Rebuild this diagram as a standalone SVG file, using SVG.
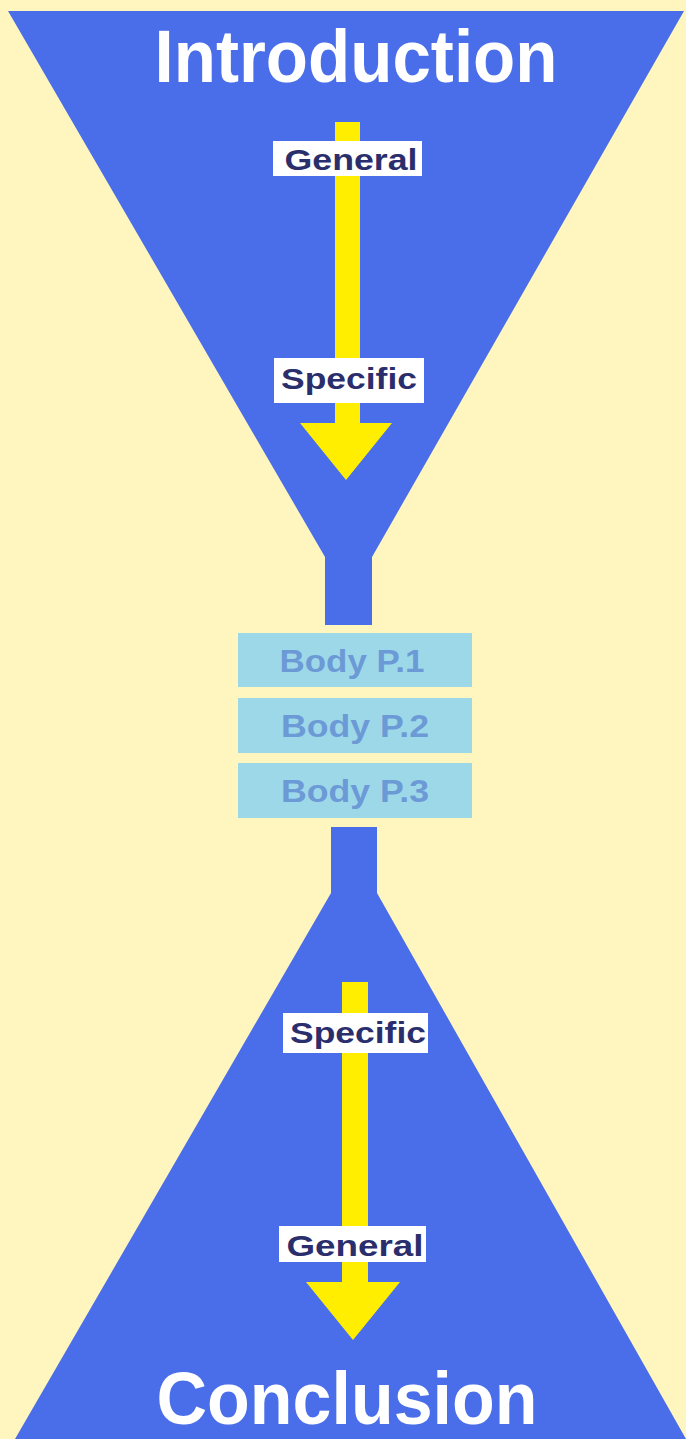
<svg xmlns="http://www.w3.org/2000/svg" width="686" height="1439" viewBox="0 0 686 1439">
<style>
.funnel{fill:#4a6ee9}
.shaft{fill:#ffee00}
.lbox{fill:#ffffff}
.ltxt{font-family:"Liberation Sans",Arial,sans-serif;font-weight:bold;font-size:30px;fill:#2b2e6c;text-anchor:middle}
.title{font-family:"Liberation Sans",Arial,sans-serif;font-weight:bold;font-size:75px;fill:#ffffff;text-anchor:middle}
.btxt{font-family:"Liberation Sans",Arial,sans-serif;font-weight:bold;font-size:31px;fill:#6c9ad6;text-anchor:middle}
.bbox{fill:#9dd8e8}
</style>
<rect x="0" y="0" width="686" height="1439" fill="#fef5bf"/>
<g id="introduction">
<polygon class="funnel" points="8,11 684,11 372,557 372,625 325,625 325,557"/>
<text class="title" x="356" y="82" textLength="403" lengthAdjust="spacingAndGlyphs">Introduction</text>
</g>
<g id="conclusion">
<polygon class="funnel" points="331,827 377,827 377,893 686,1439 15,1439 331,893"/>
<text class="title" x="347" y="1424" font-size="72" textLength="381" lengthAdjust="spacingAndGlyphs">Conclusion</text>
</g>
<g id="connectors">
<polygon class="shaft" points="335,122 360,122 360,423 392,423 346,480 300,423 335,423"/>
<polygon class="shaft" points="342,982 368,982 368,1282 400,1282 353,1340 306,1282 342,1282"/>
</g>
<g id="label-general-top">
<rect class="lbox" x="273" y="141" width="149" height="35"/>
<text class="ltxt" x="351" y="170" textLength="133" lengthAdjust="spacingAndGlyphs">General</text>
</g>
<g id="label-specific-top">
<rect class="lbox" x="274" y="358" width="150" height="45"/>
<text class="ltxt" x="349" y="389" textLength="136" lengthAdjust="spacingAndGlyphs">Specific</text>
</g>
<g id="label-specific-bottom">
<rect class="lbox" x="283" y="1013" width="145" height="40"/>
<text class="ltxt" x="358" y="1043" textLength="136" lengthAdjust="spacingAndGlyphs">Specific</text>
</g>
<g id="label-general-bottom">
<rect class="lbox" x="279" y="1226" width="147" height="36"/>
<text class="ltxt" x="355" y="1256" textLength="137" lengthAdjust="spacingAndGlyphs">General</text>
</g>
<g id="body1">
<rect class="bbox" x="238" y="633" width="234" height="54"/>
<text class="btxt" x="352" y="672" textLength="145" lengthAdjust="spacingAndGlyphs">Body P.1</text>
</g>
<g id="body2">
<rect class="bbox" x="238" y="698" width="234" height="55"/>
<text class="btxt" x="355" y="737" textLength="148" lengthAdjust="spacingAndGlyphs">Body P.2</text>
</g>
<g id="body3">
<rect class="bbox" x="238" y="763" width="234" height="55"/>
<text class="btxt" x="355" y="802" textLength="148" lengthAdjust="spacingAndGlyphs">Body P.3</text>
</g>
</svg>
